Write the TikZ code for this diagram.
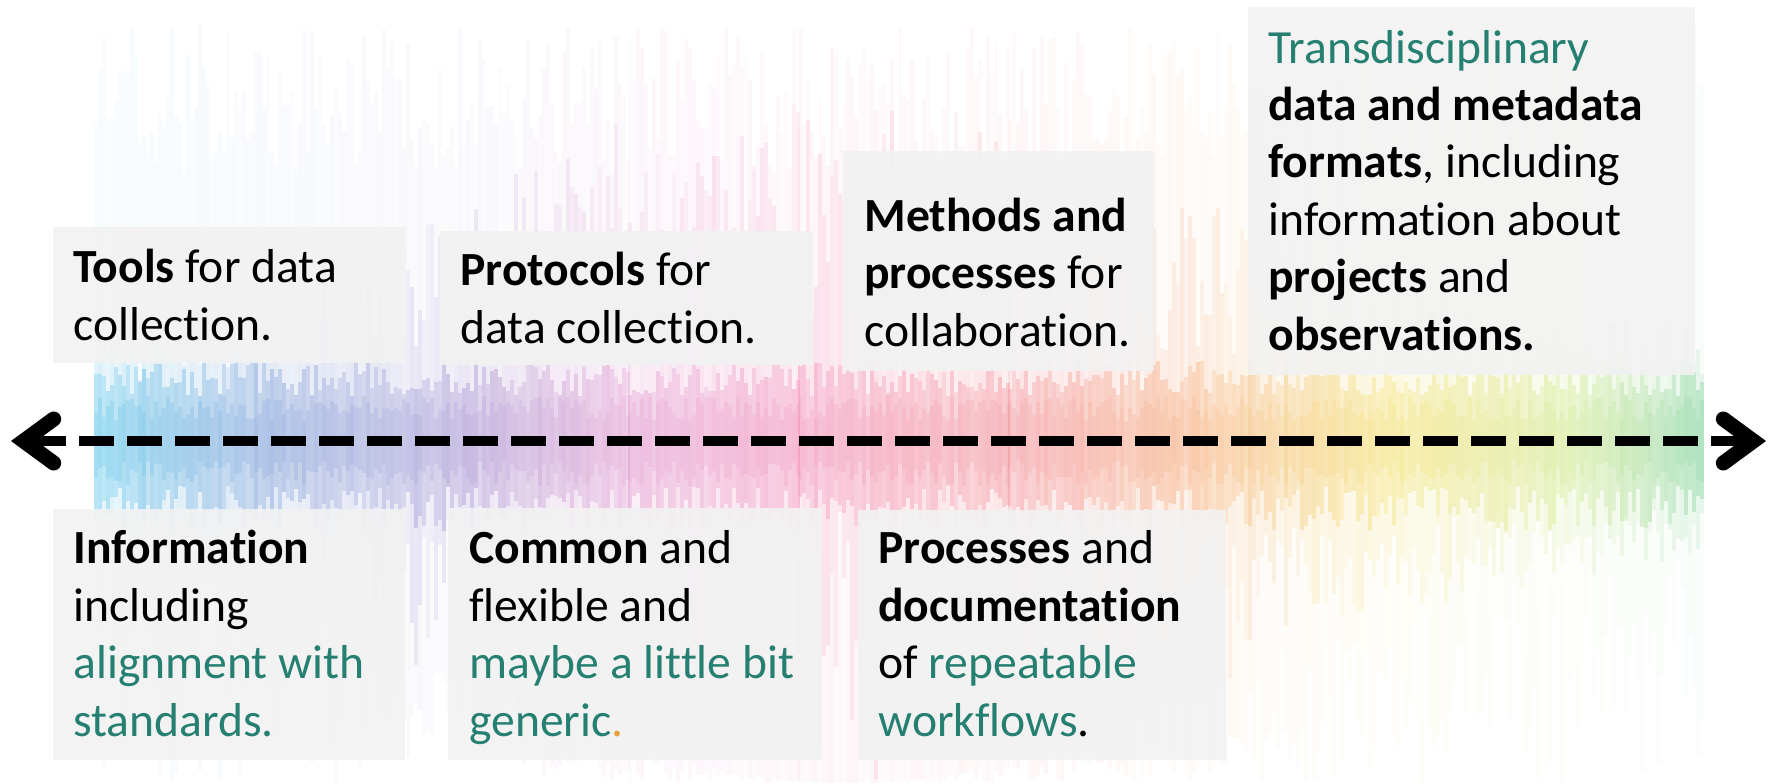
\documentclass[tikz,border=0pt]{standalone}
\usepackage{fontspec}
\setmainfont{Carlito}[Ligatures=NoCommon]
\usetikzlibrary{arrows.meta}

\definecolor{accent}{HTML}{268072}
\definecolor{dotorange}{HTML}{E6A23C}
\definecolor{panelgray}{HTML}{F2F2F2}
\definecolor{spA}{HTML}{5EC8EC}
\definecolor{spB}{HTML}{84A6DC}
\definecolor{spC}{HTML}{AE9ED8}
\definecolor{spD}{HTML}{E6A4D6}
\definecolor{spE}{HTML}{F49AC0}
\definecolor{spF}{HTML}{F59CA4}
\definecolor{spG}{HTML}{F8B488}
\definecolor{spH}{HTML}{F6E47A}
\definecolor{spI}{HTML}{D6EC98}
\definecolor{spJ}{HTML}{88D6A2}

\tikzset{
  panel/.style={fill=panelgray, fill opacity=.9},
  blurb/.style={anchor=base west, align=left, inner sep=0pt,
    font=\fontsize{23.8}{28.7}\selectfont},
  chevron/.tip={Straight Barb[length=15pt, width=22pt, line width=7.5pt 0,
    line cap=round, line join=miter]},
  timeline/.style={line width=5pt, dash pattern=on 17.5pt off 6.5pt,
    chevron-chevron},
}

\begin{document}
\begin{tikzpicture}[x=0.5pt, y=-0.5pt]
\useasboundingbox (0,0) rectangle (1777,783);
\fill[white] (0,0) rectangle (1777,783);

% colour streaks behind the line
\pgfmathsetseed{11}
\foreach \xa/\xb/\ca/\cb in {96/260/spA/spB, 260/460/spB/spC, 460/630/spC/spD,
    630/800/spD/spE, 800/1010/spE/spF, 1010/1190/spF/spG, 1190/1390/spG/spH,
    1390/1570/spH/spI, 1570/1704/spI/spJ}{
  \pgfmathtruncatemacro\xs{\xa+4}
  \pgfmathtruncatemacro\xe{\xb-1}
  \foreach \x in {\xa,\xs,...,\xe}{
    \pgfmathsetmacro\p{(\xb-\x)/(\xb-\xa)*100}
    \colorlet{streak}{\ca!\p!\cb}
    \pgfmathsetmacro\dx{abs(\x-850)/520}
    \pgfmathsetmacro\env{exp(-(\dx*\dx))}
    \pgfmathsetmacro\ta{25+150*rnd}
    \pgfmathsetmacro\ba{783-260*rnd*(1-\env)}
    \pgfmathsetmacro\oa{.03+.06*rnd*\env+.02*rnd}
    \draw[streak, line width=2pt, opacity=\oa] (\x,\ta) -- (\x,\ba);
    \pgfmathsetmacro\tb{441-60-50*rnd-260*\env*rnd}
    \pgfmathsetmacro\bb{441+60+50*rnd+240*\env*rnd}
    \pgfmathsetmacro\ob{.1+.12*rnd}
    \draw[streak, line width=2pt, opacity=\ob] (\x,\tb) -- (\x,\bb);
    \pgfmathsetmacro\tc{441-45-35*rnd}
    \pgfmathsetmacro\bc{441+45+45*rnd}
    \pgfmathsetmacro\oc{.28+.2*rnd}
    \draw[streak, line width=2pt, opacity=\oc] (\x,\tc) -- (\x,\bc);
    \pgfmathsetmacro\td{441-20-25*rnd}
    \pgfmathsetmacro\bd{441+20+25*rnd}
    \draw[streak, line width=2pt, opacity=.25] (\x,\td) -- (\x,\bd);
  }
}

\coordinate (leftend) at (11,441);
\coordinate (rightend) at (1766,441);
\draw[timeline] (leftend) -- (rightend);

\fill[panel] (53,227) rectangle (406,363);
\fill[panel] (440,231) rectangle (813,365);
\fill[panel] (843,151) rectangle (1154,371);
\fill[panel] (1248,7) rectangle (1695,375);
\fill[panel] (53,509) rectangle (405,760);
\fill[panel] (448,508) rectangle (822,760);
\fill[panel] (858,510) rectangle (1226,760);

\node[blurb] (tools) at (73,340) {\textbf{Tools} for data\\collection.};
\node[blurb] (protocols) at (460,343) {\textbf{Protocols} for\\data collection.};
\node[blurb] (methods) at (864,346) {\textbf{Methods and}\\\textbf{processes} for\\collaboration.};
\node[blurb] (formats) at (1268,350) {{\color{accent}Transdisciplinary}\\\textbf{data and metadata}\\\textbf{formats}, including\\information about\\\textbf{projects} and\\\textbf{observations.}};
\node[blurb] (information) at (73,736) {\textbf{Information}\\including\\{\color{accent}alignment with}\\{\color{accent}standards.}};
\node[blurb] (common) at (469,736) {\textbf{Common} and\\flexible and\\{\color{accent}maybe a little bit}\\{\color{accent}generic}{\color{dotorange}.}};
\node[blurb] (processes) at (878,736) {\textbf{Processes} and\\\textbf{documentation}\\of {\color{accent}repeatable}\\{\color{accent}workflows}.};
\end{tikzpicture}
\end{document}
